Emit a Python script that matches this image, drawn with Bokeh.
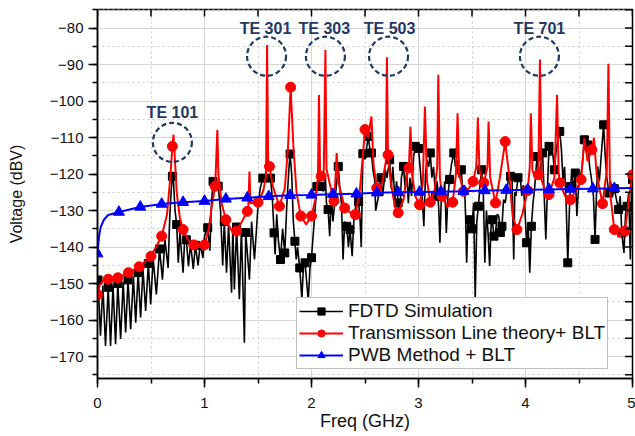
import numpy as np
from bokeh.plotting import figure
from bokeh.models import Range1d, SingleIntervalTicker, Legend, LegendItem
from bokeh.core.properties import value
from bokeh.embed import file_html
from bokeh.resources import INLINE

# ---------------- data ----------------
# FDTD Simulation (frequency GHz, voltage dBV)
fdtd_pts = [
    (0.005, -149.0), (0.028, -164.3), (0.05, -150.5), (0.075, -167.1), (0.10, -151.0), (0.122, -167.1),
    (0.145, -150.5), (0.169, -166.6), (0.19, -150.0), (0.216, -165.2), (0.24, -149.5), (0.263, -163.4),
    (0.285, -149.0), (0.31, -162.5), (0.335, -148.0), (0.357, -160.7), (0.38, -147.0), (0.403, -159.3),
    (0.425, -146.0), (0.45, -157.5), (0.475, -144.5), (0.497, -155.7), (0.52, -143.0), (0.55, -153.0),
    (0.58, -140.5), (0.607, -148.9), (0.63, -138.0), (0.66, -145.7), (0.675, -132.0), (0.69, -124.0),
    (0.70, -120.6), (0.71, -122.0), (0.725, -130.0), (0.74, -133.8), (0.755, -144.3), (0.77, -136.0),
    (0.80, -147.0), (0.815, -137.5), (0.83, -138.0), (0.85, -145.2), (0.87, -139.0), (0.895, -146.0),
    (0.915, -139.5), (0.94, -145.0), (0.96, -139.0), (0.985, -143.0), (1.00, -137.0), (1.03, -134.7),
    (1.05, -141.0), (1.065, -128.0), (1.08, -122.0), (1.10, -121.5), (1.128, -123.3), (1.15, -130.0),
    (1.17, -145.0), (1.185, -133.0), (1.206, -147.0), (1.225, -134.0), (1.253, -152.5), (1.265, -134.0),
    (1.279, -151.6), (1.30, -134.5), (1.326, -154.3), (1.345, -135.0), (1.373, -166.2), (1.385, -136.0),
    (1.42, -148.9), (1.44, -133.0), (1.467, -143.4), (1.50, -128.8), (1.52, -124.0), (1.545, -121.1),
    (1.57, -121.0), (1.60, -120.5), (1.617, -121.1), (1.635, -127.0), (1.65, -136.1), (1.66, -142.0),
    (1.675, -131.0), (1.69, -138.0), (1.71, -143.4), (1.73, -135.0), (1.75, -141.6), (1.77, -128.0),
    (1.79, -118.0), (1.80, -114.5), (1.815, -120.0), (1.83, -133.0), (1.845, -138.4), (1.857, -143.4),
    (1.87, -140.0), (1.89, -145.7), (1.91, -154.3), (1.925, -145.0), (1.94, -144.3), (1.97, -154.8),
    (1.985, -146.0), (2.00, -142.9), (2.02, -135.0), (2.04, -127.0), (2.05, -123.4), (2.07, -121.0),
    (2.086, -123.4), (2.11, -124.7), (2.13, -121.0), (2.14, -128.0), (2.155, -129.7), (2.17, -137.0),
    (2.185, -126.0), (2.20, -133.0), (2.22, -127.0), (2.25, -117.9), (2.265, -124.0), (2.28, -128.0),
    (2.295, -143.4), (2.31, -133.0), (2.33, -134.3), (2.345, -140.0), (2.36, -135.2), (2.38, -142.5),
    (2.395, -133.0), (2.42, -127.0), (2.44, -127.5), (2.455, -133.0), (2.465, -140.0), (2.48, -114.4),
    (2.50, -116.0), (2.53, -109.7), (2.545, -113.0), (2.56, -114.2), (2.575, -119.0), (2.59, -121.5),
    (2.60, -130.0), (2.62, -127.0), (2.635, -123.0), (2.65, -121.0), (2.665, -126.0), (2.69, -118.8),
    (2.705, -121.0), (2.73, -116.1), (2.745, -124.0), (2.76, -118.0), (2.78, -127.0), (2.795, -122.0),
    (2.81, -127.9), (2.825, -131.0), (2.84, -121.0), (2.86, -117.9), (2.875, -124.0), (2.89, -119.0),
    (2.905, -128.0), (2.92, -121.0), (2.935, -126.0), (2.955, -115.0), (2.97, -112.4), (2.985, -114.0),
    (3.00, -113.0), (3.015, -118.0), (3.03, -124.0), (3.05, -134.3), (3.065, -120.0), (3.08, -116.1),
    (3.095, -118.0), (3.11, -114.2), (3.125, -121.0), (3.14, -118.0), (3.16, -126.1), (3.175, -122.0),
    (3.19, -130.0), (3.20, -138.8), (3.215, -125.0), (3.23, -127.0), (3.245, -122.0), (3.26, -136.1),
    (3.275, -126.0), (3.29, -121.5), (3.31, -117.0), (3.33, -114.2), (3.345, -118.0), (3.36, -116.1),
    (3.38, -121.0), (3.40, -118.8), (3.415, -126.0), (3.43, -123.0), (3.44, -131.5), (3.45, -144.3),
    (3.46, -134.0), (3.48, -132.5), (3.50, -135.0), (3.515, -127.9), (3.53, -154.3), (3.545, -133.0),
    (3.56, -128.8), (3.575, -123.0), (3.59, -118.8), (3.605, -124.0), (3.62, -144.3), (3.635, -130.0),
    (3.65, -136.1), (3.665, -145.2), (3.68, -133.0), (3.69, -132.5), (3.705, -137.0), (3.72, -136.1),
    (3.735, -131.0), (3.75, -131.5), (3.765, -136.0), (3.78, -134.3), (3.795, -127.0), (3.81, -127.9),
    (3.83, -124.0), (3.845, -120.0), (3.86, -120.6), (3.875, -122.0), (3.89, -143.4), (3.90, -125.0),
    (3.91, -126.0), (3.93, -121.0), (3.95, -120.2), (3.965, -126.0), (3.98, -123.0), (3.995, -130.0),
    (4.01, -138.8), (4.025, -134.0), (4.04, -147.0), (4.055, -134.3), (4.07, -128.0), (4.085, -124.0),
    (4.10, -118.0), (4.11, -115.2), (4.125, -121.0), (4.14, -118.0), (4.16, -114.2), (4.175, -126.0),
    (4.19, -137.9), (4.205, -124.0), (4.22, -112.4), (4.235, -115.0), (4.25, -113.0), (4.27, -118.8),
    (4.285, -114.0), (4.30, -111.0), (4.32, -108.3), (4.335, -113.0), (4.35, -121.5), (4.365, -118.0),
    (4.38, -128.0), (4.395, -144.3), (4.41, -130.0), (4.42, -123.4), (4.435, -119.0), (4.45, -125.0),
    (4.465, -119.7), (4.48, -131.5), (4.495, -124.0), (4.51, -121.0), (4.53, -118.0), (4.55, -110.6),
    (4.565, -114.0), (4.58, -112.0), (4.60, -118.0), (4.615, -121.0), (4.635, -126.0), (4.65, -137.9),
    (4.665, -124.0), (4.675, -117.9), (4.69, -122.0), (4.71, -114.0), (4.73, -106.5), (4.745, -115.0),
    (4.76, -121.0), (4.78, -125.2), (4.795, -122.0), (4.81, -126.0), (4.83, -124.0), (4.85, -127.0),
    (4.87, -129.7), (4.885, -126.0), (4.90, -136.1), (4.92, -141.6), (4.935, -131.0), (4.95, -128.8),
    (4.965, -125.0), (4.98, -143.4), (4.99, -124.0), (5.00, -121.5),
]
fdtd_mark_f = [0.005, 0.10, 0.19, 0.285, 0.38, 0.475, 0.58, 0.70, 0.74, 0.83, 0.915, 1.03, 1.08, 1.128,
               1.185, 1.30, 1.385, 1.545, 1.617, 1.65, 1.71, 1.75, 1.80, 1.845, 1.89, 1.94, 2.00, 2.05,
               2.086, 2.155, 2.25, 2.33, 2.36, 2.44, 2.48, 2.53, 2.56, 2.65, 2.73, 2.81, 2.86, 2.97, 3.00,
               3.11, 3.16, 3.29, 3.33, 3.40, 3.48, 3.50, 3.56, 3.59, 3.69, 3.705, 3.765, 3.78, 3.86, 3.93,
               4.01, 4.055, 4.11, 4.16, 4.22, 4.27, 4.32, 4.395, 4.42, 4.465, 4.55, 4.58, 4.65, 4.73,
               4.78, 4.83, 4.87, 4.90, 4.95, 5.00]

# Transmisson Line theory + BLT
tl_pts = [
    (0.00, -153.0), (0.02, -150.5), (0.05, -149.3), (0.10, -148.8), (0.19, -148.4), (0.29, -147.0),
    (0.39, -145.4), (0.50, -142.5), (0.60, -137.0), (0.65, -131.0), (0.68, -121.0), (0.70, -112.4),
    (0.71, -109.2), (0.72, -114.0), (0.74, -125.0), (0.77, -132.0), (0.80, -135.2), (0.85, -138.2),
    (0.90, -139.4), (0.95, -140.0), (1.00, -139.4), (1.04, -135.0), (1.07, -128.5), (1.10, -123.3),
    (1.12, -107.9), (1.13, -120.0), (1.16, -128.0), (1.20, -132.5), (1.25, -135.3), (1.30, -135.6),
    (1.35, -133.0), (1.40, -130.2), (1.41, -128.5), (1.42, -119.3), (1.43, -128.0), (1.50, -127.7),
    (1.55, -124.5), (1.575, -120.5), (1.585, -84.6), (1.595, -117.0), (1.607, -117.9), (1.64, -123.5),
    (1.70, -128.8), (1.75, -124.0), (1.78, -113.0), (1.805, -96.2), (1.83, -112.0), (1.86, -125.0),
    (1.90, -131.5), (1.95, -133.8), (2.00, -131.5), (2.04, -126.5), (2.06, -121.0), (2.07, -98.3),
    (2.08, -119.5), (2.09, -120.6), (2.115, -119.0), (2.13, -86.0), (2.14, -118.5), (2.17, -122.5),
    (2.21, -127.4), (2.225, -121.0), (2.235, -114.2), (2.25, -122.0), (2.31, -129.3), (2.36, -130.5),
    (2.41, -131.1), (2.45, -125.0), (2.48, -115.0), (2.50, -107.8), (2.53, -110.0), (2.56, -104.2),
    (2.58, -117.5), (2.61, -123.8), (2.66, -122.5), (2.695, -116.5), (2.705, -88.0), (2.715, -114.7),
    (2.74, -122.0), (2.78, -129.0), (2.81, -130.6), (2.86, -127.0), (2.895, -120.0), (2.91, -118.3),
    (2.925, -107.0), (2.94, -120.0), (2.97, -126.0), (3.01, -128.4), (3.04, -122.5), (3.06, -101.5),
    (3.08, -122.0), (3.11, -127.7), (3.15, -124.5), (3.175, -118.0), (3.185, -92.8), (3.20, -121.0),
    (3.22, -126.1), (3.27, -129.0), (3.32, -127.7), (3.35, -120.0), (3.365, -103.3), (3.38, -120.0),
    (3.42, -124.7), (3.47, -124.0), (3.51, -122.0), (3.54, -118.0), (3.555, -104.5), (3.57, -119.0),
    (3.61, -122.4), (3.645, -118.0), (3.655, -105.6), (3.67, -121.0), (3.72, -127.9), (3.76, -121.0),
    (3.81, -111.1), (3.85, -121.0), (3.88, -131.5), (3.92, -135.2), (3.97, -131.0), (4.02, -124.5),
    (4.04, -118.0), (4.05, -103.3), (4.065, -119.0), (4.10, -121.5), (4.12, -120.2), (4.135, -88.6),
    (4.15, -121.5), (4.19, -125.0), (4.22, -125.6), (4.27, -121.0), (4.295, -98.3), (4.31, -119.5),
    (4.32, -122.4), (4.37, -126.0), (4.42, -127.0), (4.47, -124.5), (4.52, -121.5), (4.55, -110.1),
    (4.58, -116.5), (4.62, -113.3), (4.64, -110.1), (4.665, -120.0), (4.72, -128.1), (4.76, -119.0),
    (4.775, -89.8), (4.79, -125.0), (4.83, -135.2), (4.88, -137.2), (4.93, -135.6), (4.97, -126.0),
    (5.00, -120.2),
]
tl_mark_f = [0.00, 0.10, 0.19, 0.29, 0.39, 0.50, 0.60, 0.70, 0.80, 0.90, 1.00, 1.10, 1.20, 1.30, 1.40,
             1.50, 1.607, 1.70, 1.805, 1.90, 2.00, 2.09, 2.21, 2.31, 2.41, 2.50, 2.61, 2.715, 2.81, 2.91,
             3.01, 3.11, 3.22, 3.32, 3.42, 3.51, 3.61, 3.72, 3.81, 3.92, 4.02, 4.12, 4.22, 4.32, 4.42,
             4.52, 4.62, 4.72, 4.83, 4.93, 5.00]

# PWB Method + BLT
pwb_f = [0.0, 0.005, 0.015, 0.03, 0.06, 0.10, 0.2, 0.4, 0.6, 0.8, 1.0, 1.2, 1.4, 1.6, 1.8, 2.0, 2.2,
         2.42, 2.61, 2.81, 3.01, 3.21, 3.42, 3.62, 3.82, 4.02, 4.22, 4.42, 4.63, 4.83, 5.0]
pwb_v = [-141.8, -140.0, -137.0, -134.5, -132.5, -131.2, -130.4, -129.0, -128.2, -127.7, -127.4, -126.8,
         -126.5, -126.1, -125.8, -125.7, -125.5, -125.4, -125.1, -125.0, -124.9, -124.8, -124.7, -124.5,
         -124.4, -124.3, -124.2, -124.1, -124.0, -123.9, -123.8]
pwb_mark_f = [0.0, 0.2, 0.4, 0.6, 0.8, 1.0, 1.2, 1.4, 1.6, 1.8, 2.0, 2.2, 2.42, 2.61, 2.81, 3.01, 3.21,
              3.42, 3.62, 3.82, 4.02, 4.22, 4.42, 4.63, 4.83]

# Mode annotations
mode_labels = ["TE 101", "TE 301", "TE 303", "TE 503", "TE 701"]
mode_circle_f = [0.70, 1.58, 2.13, 2.72, 4.13]
mode_circle_v = [-111.3, -87.7, -87.7, -87.7, -87.7]
mode_text_f = [0.70, 1.57, 2.12, 2.73, 4.13]
mode_text_v = [-103.2, -80.0, -80.0, -80.0, -80.0]

series_labels = ["FDTD Simulation", "Transmisson Line theory+ BLT", "PWB Method + BLT"]

# axis ranges and inner tick positions of the top / right frame edges
x_lo, x_hi = 0, 5
y_lo, y_hi = -176, -74.9
top_ticks = [0, 0.5, 1, 1.5, 2, 2.5, 3, 3.5, 4, 4.5, 5]
right_ticks = [-175, -170, -165, -160, -155, -150, -145, -140, -135, -130, -125, -120, -115, -110,
               -105, -100, -95, -90, -85, -80, -75]


def split(pts):
    return [a for a, _ in pts], [b for _, b in pts]


def marks(xs, ys, sel):
    lut = dict(zip(xs, ys))
    return sel, [lut.get(f, float(np.interp(f, xs, ys))) for f in sel]


fdtd_f, fdtd_v = split(fdtd_pts)
tl_f, tl_v = split(tl_pts)
fdtd_mx, fdtd_my = marks(fdtd_f, fdtd_v, fdtd_mark_f)
tl_mx, tl_my = marks(tl_f, tl_v, tl_mark_f)
pwb_mx, pwb_my = marks(pwb_f, pwb_v, pwb_mark_f)

# ---------------- figure ----------------
FONT = "Liberation Sans"
NAVY = "#1f3864"

p = figure(width=635, height=436, output_backend="svg", toolbar_location=None,
           x_range=Range1d(x_lo, x_hi), y_range=Range1d(y_lo, y_hi),
           min_border_left=97, min_border_right=3, min_border_top=9, min_border_bottom=58,
           x_axis_label="Freq (GHz)", y_axis_label="Voltage (dBV)")
p.background_fill_color = "white"
p.border_fill_color = "white"
p.outline_line_color = "black"
p.outline_line_width = 1.5

xt = SingleIntervalTicker(interval=1, num_minor_ticks=2)
yt = SingleIntervalTicker(interval=10, num_minor_ticks=2)
p.xaxis.ticker = xt
p.yaxis.ticker = yt
p.xgrid.ticker = xt
p.ygrid.ticker = yt

for g in (p.xgrid[0], p.ygrid[0]):
    g.grid_line_color = "#d6d6d6"
    g.grid_line_width = 1
    g.minor_grid_line_color = "#cdcdcd"
    g.minor_grid_line_dash = "2 3"
    g.minor_grid_line_width = 1

for ax in (p.xaxis[0], p.yaxis[0]):
    ax.axis_line_width = 1.5
    ax.major_tick_line_width = 1.5
    ax.minor_tick_line_width = 1.5
    ax.major_tick_in = 0
    ax.minor_tick_in = 0
    ax.major_label_text_font = FONT
    ax.major_label_text_font_size = "15px"
    ax.major_label_text_color = "#111111"
    ax.axis_label_text_font = FONT
    ax.axis_label_text_font_style = "normal"
    ax.axis_label_text_color = "#111111"

p.xaxis.major_tick_out = 9
p.xaxis.minor_tick_out = 5
p.xaxis.major_label_standoff = 10
p.xaxis.axis_label_standoff = 0
p.xaxis.axis_label_text_font_size = "18px"

p.yaxis.major_tick_out = 9
p.yaxis.minor_tick_out = 5
p.yaxis.major_label_standoff = 5
p.yaxis.axis_label_standoff = 22
p.yaxis.axis_label_text_font_size = "16px"

# series
bl = p.line(fdtd_f, fdtd_v, line_color="black", line_width=1.6)
bs = p.scatter(fdtd_mx, fdtd_my, marker="square", size=8, fill_color="black", line_color="black")
rl = p.line(tl_f, tl_v, line_color="#ff0000", line_width=2)
rs = p.scatter(tl_mx, tl_my, marker="circle", size=10, fill_color="#ff0000", line_color="#ff0000")
ul = p.line(pwb_f, pwb_v, line_color="#0000ff", line_width=2)
us = p.scatter(pwb_mx, pwb_my, marker="triangle", size=11, fill_color="#0000ff", line_color="#0000ff")

# inward ticks on the top and right frame edges (half of each dash is clipped away)
p.scatter(top_ticks, [y_hi] * len(top_ticks), marker="dash", size=14, angle=np.pi / 2,
          line_color="black", line_width=1.5)
p.scatter([x_hi] * len(right_ticks), right_ticks, marker="dash", size=15,
          line_color="black", line_width=1.5)

# annotations
p.scatter(mode_circle_f, mode_circle_v, marker="circle", size=39, fill_color=None,
          line_color=NAVY, line_width=2.2, line_dash="5 3")
p.text(mode_text_f, mode_text_v, text=mode_labels, text_font=value(FONT), text_font_size="16px",
       text_font_style="bold", text_color=NAVY, text_align="center", text_baseline="middle")

legend = Legend(items=[LegendItem(label=series_labels[0], renderers=[bl, bs]),
                       LegendItem(label=series_labels[1], renderers=[rl, rs]),
                       LegendItem(label=series_labels[2], renderers=[ul, us])],
                location=(199, 9))
legend.label_text_font = FONT
legend.label_text_font_size = "19px"
legend.label_text_color = "#111111"
legend.glyph_width = 44
legend.glyph_height = 18
legend.label_height = 18
legend.label_standoff = 5
legend.spacing = 0
legend.padding = 2
legend.margin = 0
legend.border_line_color = "#808080"
legend.border_line_width = 1
legend.background_fill_color = "white"
legend.background_fill_alpha = 1.0
p.add_layout(legend)

open("out.html", "w").write(file_html(p, INLINE))
